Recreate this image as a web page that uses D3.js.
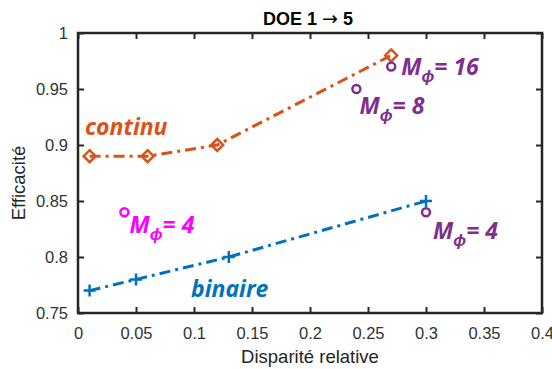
<!DOCTYPE html>
<html><head><meta charset="utf-8">
<script src="https://cdn.jsdelivr.net/npm/d3@7"></script>
<style>body{margin:0;background:#fff}svg{display:block}</style>
</head><body>
<svg id="c" width="552" height="369"></svg>
<script>
const xTicks = [0,0.05,0.1,0.15,0.2,0.25,0.3,0.35,0.4];
const yTicks = [0.75,0.8,0.85,0.9,0.95,1];
const continuX = [0.01,0.06,0.12,0.27];
const continuY = [0.89,0.89,0.9,0.98];
const binaireX = [0.01,0.05,0.13,0.3];
const binaireY = [0.77,0.78,0.8,0.85];
const circlesX = [0.04,0.24,0.27,0.30];
const circlesY = [0.84,0.95,0.97,0.84];
const circlesM = ["4","8","16","4"];
const circlesC = ["#FF00FF","#7E2F8E","#7E2F8E","#7E2F8E"];

const svg = d3.select("#c");
const m = {l:78,r:542,t:33,b:313};
const x = d3.scaleLinear().domain([0,0.4]).range([m.l,m.r]);
const y = d3.scaleLinear().domain([0.75,1]).range([m.b,m.t]);
const axc = "#262626";
const tf = "'Liberation Sans',Arial,sans-serif";

const gx = svg.append("g").attr("transform",`translate(0,${m.b})`)
  .call(d3.axisBottom(x).tickValues(xTicks).tickSizeInner(-6).tickSizeOuter(0).tickPadding(14).tickFormat(d=>d3.format("")(d)));
const gy = svg.append("g").attr("transform",`translate(${m.l},0)`)
  .call(d3.axisLeft(y).tickValues(yTicks).tickSizeInner(-6).tickSizeOuter(0).tickPadding(10).tickFormat(d=>d3.format("")(d)));
const gx2 = svg.append("g").attr("transform",`translate(0,${m.t})`)
  .call(d3.axisTop(x).tickValues(xTicks).tickSizeInner(-6).tickSizeOuter(0).tickFormat(""));
const gy2 = svg.append("g").attr("transform",`translate(${m.r},0)`)
  .call(d3.axisRight(y).tickValues(yTicks).tickSizeInner(-6).tickSizeOuter(0).tickFormat(""));
[gx,gy,gx2,gy2].forEach(g=>{
  g.select(".domain").remove();
  g.selectAll(".tick line").attr("stroke",axc).attr("stroke-width",2);
  g.selectAll(".tick text").attr("fill","#333").style("font-family",tf).style("font-size","16.5px");
});
svg.append("rect").attr("x",m.l).attr("y",m.t).attr("width",m.r-m.l).attr("height",m.b-m.t)
  .attr("fill","none").attr("stroke",axc).attr("stroke-width",2.5);

svg.append("text").attr("x",310).attr("y",363).attr("text-anchor","middle")
  .style("font-family",tf).style("font-size","18.5px").attr("fill",axc).text("Disparité relative");
svg.append("text").attr("transform","translate(25,183) rotate(-90)").attr("text-anchor","middle")
  .style("font-family",tf).style("font-size","18.5px").attr("fill",axc).text("Efficacité");
const t = svg.append("text").attr("x",308).attr("y",25).attr("text-anchor","middle")
  .style("font-family",tf).style("font-size","18px").attr("fill","#000");
t.append("tspan").attr("font-weight","bold").text("DOE 1 ");
t.append("tspan").attr("font-weight","normal").style("font-family","'DejaVu Sans'").style("font-size","19px").text("\u2192");
t.append("tspan").attr("font-weight","bold").text(" 5");

const line = d3.line().x(d=>x(d[0])).y(d=>y(d[1]));
const cData = continuX.map((v,i)=>[v,continuY[i]]);
const bData = binaireX.map((v,i)=>[v,binaireY[i]]);
const orange="#D95319", blue="#0072BD";

svg.append("path").datum(cData).attr("d",line).attr("fill","none").attr("stroke",orange)
  .attr("stroke-width",3).attr("stroke-dasharray","11,5,3,5");
svg.append("path").datum(bData).attr("d",line).attr("fill","none").attr("stroke",blue)
  .attr("stroke-width",3).attr("stroke-dasharray","11,5,3,5");

svg.selectAll(".dia").data(cData).enter().append("path")
  .attr("d","M0,-6L6,0L0,6L-6,0Z")
  .attr("transform",d=>`translate(${x(d[0])},${y(d[1])})`)
  .attr("fill","none").attr("stroke",orange).attr("stroke-width",2.5);
svg.selectAll(".plus").data(bData).enter().append("path")
  .attr("d","M-6,0L6,0M0,-6L0,6")
  .attr("transform",d=>`translate(${x(d[0])},${y(d[1])})`)
  .attr("fill","none").attr("stroke",blue).attr("stroke-width",2.5);

const circ = circlesX.map((v,i)=>({x:v,y:circlesY[i],m:circlesM[i],c:circlesC[i]}));
svg.selectAll(".circ").data(circ).enter().append("circle")
  .attr("cx",d=>x(d.x)).attr("cy",d=>y(d.y)).attr("r",4)
  .attr("fill","none").attr("stroke",d=>d.c).attr("stroke-width",2.5);

const lf = "'Open Sans',sans-serif";
function lab(txt,px,py,col){
  return svg.append("text").attr("x",px).attr("y",py).attr("fill",col)
    .style("font-family",lf).style("font-size","23px").style("font-weight","bold").style("font-style","italic").text(txt);
}
lab("continu",85,135,orange);
lab("binaire",191,297,blue);
const offs = [[5,21],[3,25],[10,8],[7,27]];
circ.forEach((d,i)=>{
  const tx = svg.append("text").attr("x",x(d.x)+offs[i][0]).attr("y",y(d.y)+offs[i][1]).attr("fill",d.c)
    .style("font-family",lf).style("font-size","23px").style("font-weight","bold").style("font-style","italic");
  tx.append("tspan").text("M");
  tx.append("tspan").attr("dy",7).style("font-size","17px").text("\u03D5");
  tx.append("tspan").attr("dy",-7).text("= "+d.m);
});
</script>
</body></html>
